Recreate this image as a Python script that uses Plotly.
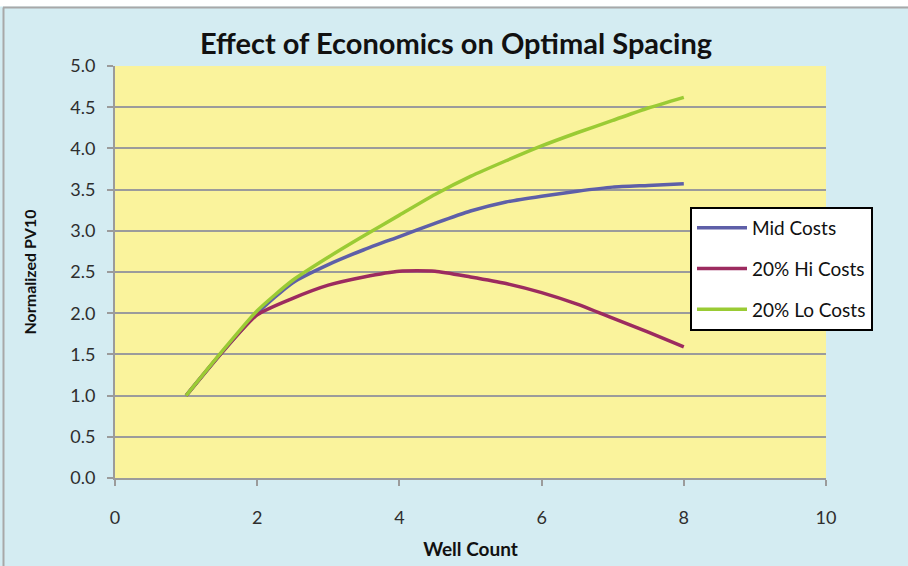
import plotly.graph_objects as go

# Well count (x) and normalized PV10 for each cost case
well_count = [1.0, 1.5, 2.0, 2.5, 3.0, 3.5, 4.0, 4.5, 5.0, 5.5, 6.0, 6.5, 7.0, 7.5, 8.0]
mid_costs = [1.0, 1.52, 2.0, 2.37, 2.59, 2.77, 2.93, 3.09, 3.24, 3.35, 3.42, 3.48, 3.53, 3.55, 3.57]
hi_costs = [1.0, 1.52, 1.98, 2.18, 2.34, 2.44, 2.51, 2.51, 2.44, 2.36, 2.25, 2.11, 1.94, 1.77, 1.59]
lo_costs = [1.0, 1.53, 2.03, 2.40, 2.68, 2.94, 3.19, 3.44, 3.66, 3.85, 4.03, 4.19, 4.34, 4.49, 4.62]

series_names = ["Mid Costs", "20% Hi Costs", "20% Lo Costs"]
series_colors = ["#5e5fa8", "#9c2b5f", "#9acb34"]

x_ticks = [0, 2, 4, 6, 8, 10]
y_ticks = [0.0, 0.5, 1.0, 1.5, 2.0, 2.5, 3.0, 3.5, 4.0, 4.5, 5.0]

W, H = 908, 566
L, R, T, B = 115, 82, 66, 88
pw, ph = W - L - R, H - T - B


def px_x(p):
    return (p - L) / pw


def px_y(p):
    return (H - B - p) / ph


fig = go.Figure()
for name, vals, col in zip(series_names, [mid_costs, hi_costs, lo_costs], series_colors):
    fig.add_trace(go.Scatter(
        x=well_count, y=vals, mode="lines", name=name,
        line=dict(color=col, width=3.5, shape="spline", smoothing=0.6),
        legendgroup=name,
    ))

font_family = "Lato, 'Open Sans', sans-serif"
grid_gray = "#9b9b9b"
tick_color = "#2e2e2e"

fig.update_layout(
    width=W, height=H,
    margin=dict(l=L, r=R, t=T, b=B, autoexpand=False),
    paper_bgcolor="#d4ecf2",
    plot_bgcolor="#faf39c",
    font=dict(family=font_family, color=tick_color, size=18),
    title=dict(
        text="<b>Effect of Economics on Optimal Spacing</b>",
        x=px_x(456), xref="paper", xanchor="center",
        y=1 - 44 / H, yref="container", yanchor="middle",
        font=dict(size=29, color="#111111", family=font_family),
    ),
    xaxis=dict(
        range=[0, 10], tickvals=x_ticks, ticktext=[str(v) for v in x_ticks],
        showgrid=False, zeroline=False,
        showline=True, linecolor=grid_gray, linewidth=2,
        ticks="outside", ticklen=6, tickwidth=2, tickcolor=grid_gray,
        tickfont=dict(size=18, color=tick_color),
        ticklabelstandoff=16,
        title=dict(text="<b>Well Count</b>", font=dict(size=19, color="#111111"), standoff=16),
    ),
    yaxis=dict(
        range=[0, 5], tickvals=y_ticks, ticktext=[f"{v:.1f}" for v in y_ticks],
        showgrid=True, gridcolor=grid_gray, gridwidth=2,
        zeroline=False,
        showline=True, linecolor=grid_gray, linewidth=2,
        ticks="outside", ticklen=6, tickwidth=2, tickcolor=grid_gray,
        tickfont=dict(size=18, color=tick_color),
        ticklabelstandoff=8,
        title=dict(text="<b>Normalized PV10</b>", font=dict(size=16, color="#111111"), standoff=30),
    ),
    legend=dict(
        x=px_x(690), y=px_y(207), xanchor="left", yanchor="top",
        bgcolor="#ffffff", bordercolor="#000000", borderwidth=2,
        font=dict(size=19, color="#111111", family=font_family),
        itemwidth=50,
        tracegroupgap=13,
    ),
    showlegend=True,
    shapes=[
        # white strip along the top edge
        dict(type="rect", xref="paper", yref="paper",
             x0=px_x(0), x1=px_x(W), y0=px_y(6.5), y1=px_y(0),
             fillcolor="#ffffff", line=dict(width=0), layer="above"),
        # outer chart border (top and left)
        dict(type="line", xref="paper", yref="paper",
             x0=px_x(3), x1=px_x(W), y0=px_y(7.5), y1=px_y(7.5),
             line=dict(color="#a8a8a8", width=2), layer="above"),
        dict(type="line", xref="paper", yref="paper",
             x0=px_x(3.5), x1=px_x(3.5), y0=px_y(7.5), y1=px_y(H),
             line=dict(color="#a8a8a8", width=2), layer="above"),
    ],
)

fig.write_html("out.html")
